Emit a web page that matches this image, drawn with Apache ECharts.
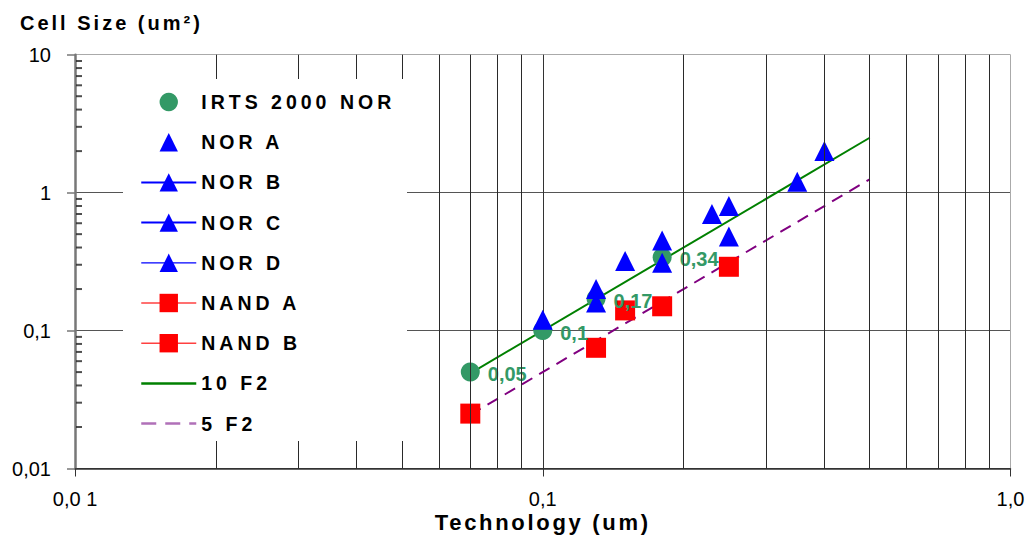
<!DOCTYPE html>
<html>
<head>
<meta charset="utf-8">
<script src="https://cdn.jsdelivr.net/npm/echarts@6/dist/echarts.min.js"></script>
<style>
  html, body { margin: 0; padding: 0; background: #fff; }
  #chart { width: 1030px; height: 539px; }
</style>
</head>
<body>
<div id="chart"></div>
<script>
// Flash cell size versus technology node, log-log.
const xTickLabels = ['0,0 1', '0,1', '1,0'];
const yTickLabels = ['0,01', '0,1', '1', '10'];

// [technology (um), cell size (um^2)]
const irtsNor = [[0.07, 0.05], [0.1, 0.1], [0.13, 0.17], [0.18, 0.34]];
const norA = [[0.1, 0.12], [0.15, 0.32], [0.4, 2.0]];
const norB = [[0.13, 0.2], [0.18, 0.45], [0.25, 0.8]];
const norC = [[0.13, 0.16], [0.18, 0.31], [0.23, 0.7]];
const norD = [[0.25, 0.48], [0.35, 1.2]];
const nandA = [[0.07, 0.025], [0.13, 0.075], [0.25, 0.29]];
const nandB = [[0.15, 0.14], [0.18, 0.15]];
const tenF2 = [[0.07, 0.049], [0.5, 2.5]];
const fiveF2 = [[0.07, 0.0245], [0.5, 1.25]];

// minor gridlines / ticks of the log axes
const xMinorGrid = [0.02, 0.03, 0.04, 0.05, 0.06, 0.07, 0.08, 0.09, 0.2, 0.3, 0.4, 0.5, 0.6, 0.7, 0.8, 0.9];
const yMinorTicks = [0.02, 0.03, 0.04, 0.05, 0.06, 0.07, 0.08, 0.09, 0.2, 0.3, 0.4, 0.5, 0.6, 0.7, 0.8, 0.9, 2, 3, 4, 5, 6, 7, 8, 9];

const FONT = '"Liberation Sans", Arial, sans-serif';
const titleText = 'Cell Size (um\u00B2)';
const xName = 'Technology (um)';

const BLUE = '#0000ff';
const RED = '#ff0000';
const SEA = '#339966';

function decadeIndex(v, lo) {
  return Math.round(Math.log10(v) - Math.log10(lo));
}

function markerSeries(name, data, symbol, color, size) {
  return {
    name, type: 'line', data, symbol, symbolSize: size,
    itemStyle: { color },
    lineStyle: { width: 0, opacity: 0 },
    z: 3
  };
}

const legendNames = ['IRTS 2000 NOR', 'NOR A', 'NOR B', 'NOR C', 'NOR D', 'NAND A', 'NAND B', '10 F2', '5 F2'];

const option = {
  animation: false,
  backgroundColor: '#fff',
  title: {
    text: titleText,
    left: 20, top: 13, padding: 0,
    textStyle: { fontFamily: FONT, fontSize: 20, fontWeight: 'bold', color: '#000' }
  },
  grid: {
    left: 75, right: 19.5, top: 54.7, bottom: 70.5,
    containLabel: false, outerBoundsMode: 'none'
  },
  xAxis: {
    type: 'log', logBase: 10, min: 0.01, max: 1,
    axisLine: { show: true, lineStyle: { color: '#333', width: 1.5 } },
    axisTick: { show: true, length: 8, lineStyle: { color: '#333', width: 1 } },
    axisLabel: {
      margin: 20, fontFamily: FONT, fontSize: 20, color: '#000',
      formatter: v => xTickLabels[decadeIndex(v, 0.01)]
    },
    splitLine: { show: true, lineStyle: { color: ['#777', '#333', '#aaa'], width: 1 } },
    minorTick: { show: false }, minorSplitLine: { show: false },
    name: xName, nameLocation: 'middle', nameGap: 43, nameMoveOverlap: false,
    nameTextStyle: { fontFamily: FONT, fontSize: 22, fontWeight: 'bold', color: '#000' }
  },
  yAxis: {
    type: 'log', logBase: 10, min: 0.01, max: 10,
    axisLine: { show: true, lineStyle: { color: '#777', width: 2.5 } },
    axisTick: { show: true, length: 8, lineStyle: { color: '#777', width: 1.5 } },
    axisLabel: {
      margin: 24, fontFamily: FONT, fontSize: 20, color: '#000',
      formatter: v => yTickLabels[decadeIndex(v, 0.01)]
    },
    splitLine: { show: true, lineStyle: { color: ['#333', '#555', '#555', '#aaa'], width: 1.2 } },
    minorTick: { show: false }, minorSplitLine: { show: false }
  },
  legend: {
    orient: 'vertical', left: 140, top: 92, padding: 0,
    itemWidth: 55, itemHeight: 23, itemGap: 20.2,
    selectedMode: false, z: 10,
    textStyle: { fontFamily: FONT, fontSize: 19.5, fontWeight: 'bold', color: '#000' },
    data: [
      { name: 'IRTS 2000 NOR', lineStyle: { opacity: 0, width: 0 } },
      { name: 'NOR A', lineStyle: { opacity: 0, width: 0 } },
      { name: 'NOR B', lineStyle: { color: BLUE, width: 2, opacity: 1 } },
      { name: 'NOR C', lineStyle: { color: BLUE, width: 2, opacity: 1 } },
      { name: 'NOR D', lineStyle: { color: BLUE, width: 1.2, opacity: 1 } },
      { name: 'NAND A', lineStyle: { color: '#ff4040', width: 1.5, opacity: 1 } },
      { name: 'NAND B', lineStyle: { color: '#ff4040', width: 1.5, opacity: 1 } },
      { name: '10 F2', lineStyle: { color: '#008000', width: 2.5, opacity: 1 }, itemStyle: { opacity: 0 } },
      { name: '5 F2', lineStyle: { color: '#b070b8', width: 2.5, type: [15, 9], opacity: 1 }, itemStyle: { opacity: 0 } }
    ]
  },
  graphic: [{
    // white panel behind the legend
    type: 'rect', z: 8, silent: true,
    shape: { x: 123, y: 79, width: 284, height: 362 },
    style: { fill: '#fff' }
  }],
  series: [
    {
      name: 'grid-minor', type: 'line', data: [], silent: true, z: 1,
      markLine: {
        silent: true, symbol: ['none', 'none'], label: { show: false },
        lineStyle: { color: '#2a2a2a', width: 1, type: 'solid' },
        data: xMinorGrid.map(v => ({ xAxis: v }))
      }
    },
    {
      name: 'y-minor-ticks', type: 'scatter', silent: true, z: 1,
      data: yMinorTicks.map(v => [0.01, v]),
      symbol: 'rect', symbolSize: [6, 2], symbolOffset: [4, 0],
      itemStyle: { color: '#222' }
    },
    {
      name: '10 F2', type: 'line', data: tenF2, symbol: 'none', z: 2,
      lineStyle: { color: '#008000', width: 2 }, itemStyle: { color: '#008000' }
    },
    {
      name: '5 F2', type: 'line', data: fiveF2, symbol: 'none', z: 2,
      lineStyle: { color: '#800080', width: 2, type: [12, 8] }, itemStyle: { color: '#800080' }
    },
    {
      name: 'IRTS 2000 NOR', type: 'line', data: irtsNor, symbol: 'circle', symbolSize: 19,
      itemStyle: { color: SEA }, lineStyle: { width: 0, opacity: 0 }, z: 3,
      label: {
        show: true, position: 'right', distance: 8, offset: [0, 2],
        fontFamily: FONT, fontSize: 20, fontWeight: 'bold', color: SEA,
        formatter: p => String(p.value[1]).replace('.', ',')
      }
    },
    markerSeries('NOR A', norA, 'triangle', BLUE, 20),
    markerSeries('NOR B', norB, 'triangle', BLUE, 20),
    markerSeries('NOR C', norC, 'triangle', BLUE, 20),
    markerSeries('NOR D', norD, 'triangle', BLUE, 20),
    markerSeries('NAND A', nandA, 'rect', RED, 20),
    markerSeries('NAND B', nandB, 'rect', RED, 20)
  ]
};

const chart = echarts.init(document.getElementById('chart'), null, { renderer: 'svg' });
chart.setOption(option);

// wide tracking on the bold captions
const spacing = new Map();
legendNames.forEach(n => spacing.set(n, '4px'));
spacing.set(titleText, '3px');
spacing.set(xName, '2.7px');

function applySpacing() {
  chart.getDom().querySelectorAll('text').forEach(t => {
    const s = spacing.get(t.textContent);
    if (s) t.style.letterSpacing = s;
  });
}
applySpacing();
chart.on('finished', applySpacing);
setTimeout(applySpacing, 0);
</script>
</body>
</html>
